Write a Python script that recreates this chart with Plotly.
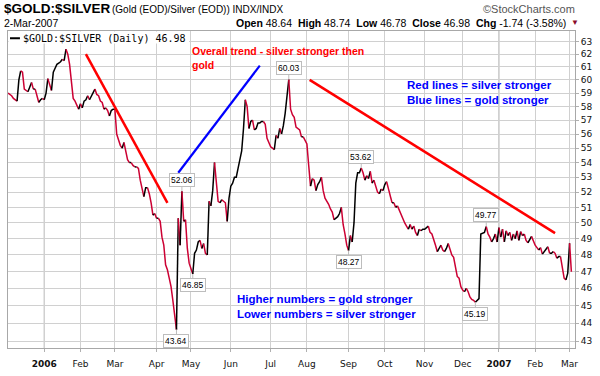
import math
import pandas as pd
import plotly.graph_objects as go

# ---------------- data ----------------
holidays = ["2005-12-26", "2006-01-02", "2006-01-16", "2006-02-20", "2006-04-14",
            "2006-05-29", "2006-07-04", "2006-09-04", "2006-11-23", "2006-12-25",
            "2007-01-01", "2007-01-02", "2007-01-15", "2007-02-19"]

vals_2005_12 = [59.0, 58.9, 58.8, 58.6, 58.5, 58.4, 60.0, 60.7, 60.6, 59.3, 59.2, 59.1, 59.4, 59.8,
                59.3, 59.3, 58.7, 58.3, 58.5, 58.6]
vals_2006_01 = [58.5, 59.0, 60.1, 59.7, 59.2, 60.6, 60.9, 61.2, 61.3, 61.4, 61.6, 61.5, 62.4, 62.0,
                61.2, 59.6, 58.6, 58.4, 58.1, 57.8]
vals_2006_02 = [58.2, 57.9, 58.4, 58.5, 58.8, 58.5, 58.8, 59.0, 59.3, 58.9, 58.8, 58.4, 58.3, 57.8,
                57.9, 57.7, 57.3, 57.7, 57.8]
vals_2006_03 = [57.8, 56.0, 55.6, 55.2, 55.0, 55.4, 54.9, 54.2, 54.0, 54.0, 53.8, 53.7, 53.7, 53.6,
                52.8, 52.2, 51.7, 52.3, 52.3, 51.9, 51.3, 50.5, 50.6]
vals_2006_04 = [50.3, 50.3, 50.1, 49.1, 48.6, 47.4, 47.1, 46.6, 46.1, 45.3, 44.4, 43.64, 50.3, 48.6,
                52.06, 50.1, 50.2, 48.4, 47.5]
vals_2006_05 = [47.1, 46.85, 48.1, 48.3, 48.8, 48.9, 48.4, 48.7, 48.1, 48.0, 51.4, 51.1, 52.1, 54.0,
                52.8, 51.4, 51.3, 51.5, 51.4, 51.3, 50.1, 51.6]
vals_2006_06 = [52.4, 52.6, 53.0, 53.0, 53.6, 54.3, 54.8, 56.4, 58.5, 58.0, 56.4, 56.9, 57.0, 56.3,
                56.4, 56.8, 56.8, 56.9, 56.9, 56.7, 55.7, 55.4]
vals_2006_07 = [55.1, 55.0, 54.9, 55.9, 55.7, 56.4, 56.0, 56.6, 57.5, 58.9, 60.03, 57.8, 57.4, 57.2,
                56.5, 56.4, 56.3, 55.8, 55.8, 55.5]
vals_2006_08 = [55.3, 53.8, 52.4, 52.9, 52.8, 52.1, 52.5, 52.7, 53.0, 52.1, 51.6, 51.4, 51.2, 50.9,
                50.7, 50.2, 50.3, 50.4, 50.6, 51.0, 49.9, 49.3, 48.6]
vals_2006_09 = [48.27, 49.2, 48.8, 50.0, 52.6, 53.3, 53.3, 53.62, 53.3, 52.8, 53.1, 52.9, 53.4, 52.6,
                52.8, 52.4, 52.0, 51.9, 52.2, 52.1]
vals_2006_10 = [52.5, 52.7, 52.2, 51.8, 51.3, 51.3, 51.0, 51.1, 50.8, 50.5, 50.3, 50.0, 49.8, 49.6,
                49.9, 49.6, 49.8, 49.4, 49.2, 49.6, 49.5, 49.6]
vals_2006_11 = [49.6, 49.7, 49.8, 49.4, 49.3, 49.0, 48.6, 48.2, 48.4, 48.6, 48.3, 48.2, 48.4, 48.7,
                48.35, 48.0, 47.85, 47.2, 46.7, 46.6, 46.1]
vals_2006_12 = [45.9, 45.8, 46.0, 45.8, 45.5, 45.35, 45.3, 45.19, 45.3, 45.4, 49.3, 49.35, 49.4, 49.77,
                49.3, 49.1, 48.8, 49.0, 49.3, 48.8]
vals_2007_01 = [49.7, 49.1, 49.6, 48.8, 49.5, 49.2, 49.4, 48.9, 49.3, 49.0, 49.5, 48.9, 49.45, 49.2,
                49.3, 48.9, 48.75, 49.0, 49.15, 48.8]
vals_2007_02 = [48.6, 48.45, 48.3, 48.45, 48.05, 48.2, 48.4, 48.5, 48.1, 48.1, 48.2, 48.1, 47.8, 47.9,
                47.9, 47.2, 46.6, 46.5, 46.9]
vals_2007_03 = [48.72, 46.98]

months = [("2005-12-02", "2005-12-31", vals_2005_12), ("2006-01-01", "2006-01-31", vals_2006_01),
          ("2006-02-01", "2006-02-28", vals_2006_02), ("2006-03-01", "2006-03-31", vals_2006_03),
          ("2006-04-01", "2006-04-30", vals_2006_04), ("2006-05-01", "2006-05-31", vals_2006_05),
          ("2006-06-01", "2006-06-30", vals_2006_06), ("2006-07-01", "2006-07-31", vals_2006_07),
          ("2006-08-01", "2006-08-31", vals_2006_08), ("2006-09-01", "2006-09-30", vals_2006_09),
          ("2006-10-01", "2006-10-31", vals_2006_10), ("2006-11-01", "2006-11-30", vals_2006_11),
          ("2006-12-01", "2006-12-31", vals_2006_12), ("2007-01-01", "2007-01-31", vals_2007_01),
          ("2007-02-01", "2007-02-28", vals_2007_02), ("2007-03-01", "2007-03-02", vals_2007_03)]

tick_dates = ["2006-01-03", "2006-02-01", "2006-03-01", "2006-04-03", "2006-05-01", "2006-06-01",
              "2006-07-03", "2006-08-01", "2006-09-01", "2006-10-02", "2006-11-01", "2006-12-01",
              "2007-01-03", "2007-02-01", "2007-03-01"]
tick_labels = ["<b>2006</b>", "Feb", "Mar", "Apr", "May", "Jun", "Jul", "Aug", "Sep", "Oct", "Nov",
               "Dec", "<b>2007</b>", "Feb", "Mar"]
y_ticks = list(range(43, 64))

label_dates = ["2006-04-19", "2006-04-24", "2006-05-02", "2006-07-18", "2006-09-01", "2006-09-13",
               "2006-12-12", "2006-12-20"]
label_values = [43.64, 52.06, 46.85, 60.03, 48.27, 53.62, 45.19, 49.77]
label_above = [False, True, False, True, False, True, False, True]

trend_red1_x = ["2006-02-06", "2006-04-11"]
trend_red1_y = [62.0, 51.3]
trend_blue_x = ["2006-04-20", "2006-06-23"]
trend_blue_y = [53.3, 61.1]
trend_red2_x = ["2006-08-02 12:00", "2007-02-16"]
trend_red2_y = [60.0, 49.35]

# ---------------- build series ----------------
hol = set(pd.to_datetime(holidays))
dates, vals = [], []
for start, end, mv in months:
    days = [d for d in pd.bdate_range(start, end) if d not in hol]
    for d, v in zip(days, mv):
        dates.append(d)
        vals.append(v)

# ---------------- layout helpers ----------------
W, H = 600, 376
L, R, T, B = 7, 23, 31, 17
PW, PH = W - L - R, H - T - B


def px(x):
    return (x - L) / PW


def py(y):
    return (H - B - y) / PH


UP = "#000000"
DOWN = "#cc0033"
SANS = "Liberation Sans, Arial, sans-serif"

fig = go.Figure()

# direction coloured price line
n = len(vals)
runs = []
s = 0
cur = None
for i in range(1, n):
    d = vals[i] >= vals[i - 1]
    if cur is None:
        cur = d
    elif d != cur:
        runs.append((s, i - 1, cur))
        s = i - 1
        cur = d
runs.append((s, n - 1, cur))
for a, b, up in runs:
    fig.add_trace(go.Scatter(x=dates[a:b + 1], y=vals[a:b + 1], mode="lines",
                             line=dict(color=UP if up else DOWN, width=1.5),
                             showlegend=False, hoverinfo="skip"))

for tx, ty, col, w in [(trend_red1_x, trend_red1_y, "#ff0000", 2.5),
                       (trend_blue_x, trend_blue_y, "#0000ff", 2.2),
                       (trend_red2_x, trend_red2_y, "#ff0000", 2.5)]:
    fig.add_trace(go.Scatter(x=tx, y=ty, mode="lines", line=dict(color=col, width=w),
                             showlegend=False, hoverinfo="skip"))

annotations = []
for d, v, above in zip(label_dates, label_values, label_above):
    annotations.append(dict(x=d, y=math.log10(v), xref="x", yref="y", text=f"{v:.2f}",
                            showarrow=True, arrowhead=0, arrowwidth=1, arrowcolor="#bdbdbd",
                            ax=0, ay=-11.5 if above else 11.5,
                            bgcolor="white", bordercolor="#bdbdbd", borderwidth=1, borderpad=1,
                            font=dict(family=SANS, size=8.5, color="#000")))


def txt(x, y, text, size, color="#000", anchor="left", family=SANS, yanchor="middle", align="left"):
    annotations.append(dict(x=px(x), y=py(y), xref="paper", yref="paper", text=text,
                            showarrow=False, xanchor=anchor, yanchor=yanchor, align=align,
                            font=dict(family=family, size=size, color=color)))


txt(1, 8, "<b>$GOLD:$SILVER</b>", 13.5)
txt(110, 9, "(Gold (EOD)/Silver (EOD)) INDX/INDX", 10)
txt(1, 23, "2-Mar-2007", 10.5)
txt(570, 23, "<b>Open</b> 48.64  <b>High</b> 48.74  <b>Low</b> 46.78  <b>Close</b> 46.98  "
             "<b>Chg</b> -1.74 (-3.58%)", 10.5, anchor="right")
txt(571, 22, "▼", 8, color="#8b0a2a")
txt(579, 8, "©StockCharts.com", 11, color="#555555", anchor="right")
txt(20, 38.5, "$GOLD:$SILVER (Daily) 46.98", 10, family="DejaVu Sans Mono")
txt(190, 58.5, "<b>Overall trend - silver stronger then<br>gold</b>", 10.5, color="#ff0000")
txt(406, 94.5, "<b>Red lines = silver stronger<br>Blue lines = gold stronger</b>", 11.5, color="#0000ff")
txt(235, 316.5, "<b>Higher numbers = gold stronger<br>Lower numbers = silver stronger</b>", 11.5,
    color="#0000ff")

shapes = [
    dict(type="rect", xref="paper", yref="paper", x0=px(7.6), x1=px(189), y0=py(44), y1=py(31.6),
         fillcolor="white", line=dict(width=0), layer="above"),
    dict(type="line", xref="paper", yref="paper", x0=px(9), x1=px(19), y0=py(38.5), y1=py(38.5),
         line=dict(color="black", width=2), layer="above"),
]
for yd in ["2006-01-03", "2007-01-03"]:
    shapes.append(dict(type="line", xref="x", yref="paper", x0=yd, x1=yd, y0=0, y1=1,
                       line=dict(color="#a8a8a8", width=1), layer="below"))

GRID = "#d0d0d0"
fig.update_layout(
    width=W, height=H, margin=dict(l=L, r=R, t=T, b=B),
    paper_bgcolor="white", plot_bgcolor="white", showlegend=False,
    annotations=annotations, shapes=shapes,
    xaxis=dict(type="date", range=["2005-12-02", "2007-03-06"],
               rangebreaks=[dict(bounds=["sat", "mon"]), dict(values=holidays)],
               tickmode="array", tickvals=tick_dates, ticktext=tick_labels,
               showgrid=True, gridcolor=GRID, gridwidth=1, zeroline=False,
               ticks="outside", ticklen=3, tickcolor="#b0b0b0", ticklabelstandoff=4,
               showline=True, mirror=True, linecolor="#a8a8a8", linewidth=1,
               tickfont=dict(family="DejaVu Sans", size=9, color="#111")),
    yaxis=dict(type="log", side="right", range=[math.log10(42.63), math.log10(63.86)],
               tickmode="array", tickvals=y_ticks, ticktext=[str(v) for v in y_ticks],
               showgrid=True, gridcolor=GRID, gridwidth=1, zeroline=False,
               ticks="outside", ticklen=3, tickcolor="#b0b0b0",
               showline=True, mirror=True, linecolor="#a8a8a8", linewidth=1,
               tickfont=dict(family="DejaVu Sans", size=9, color="#111")),
)

fig.write_html("out.html", config={"displayModeBar": False, "staticPlot": True},
               post_script="document.body.style.margin='0';document.body.style.padding='0';")
